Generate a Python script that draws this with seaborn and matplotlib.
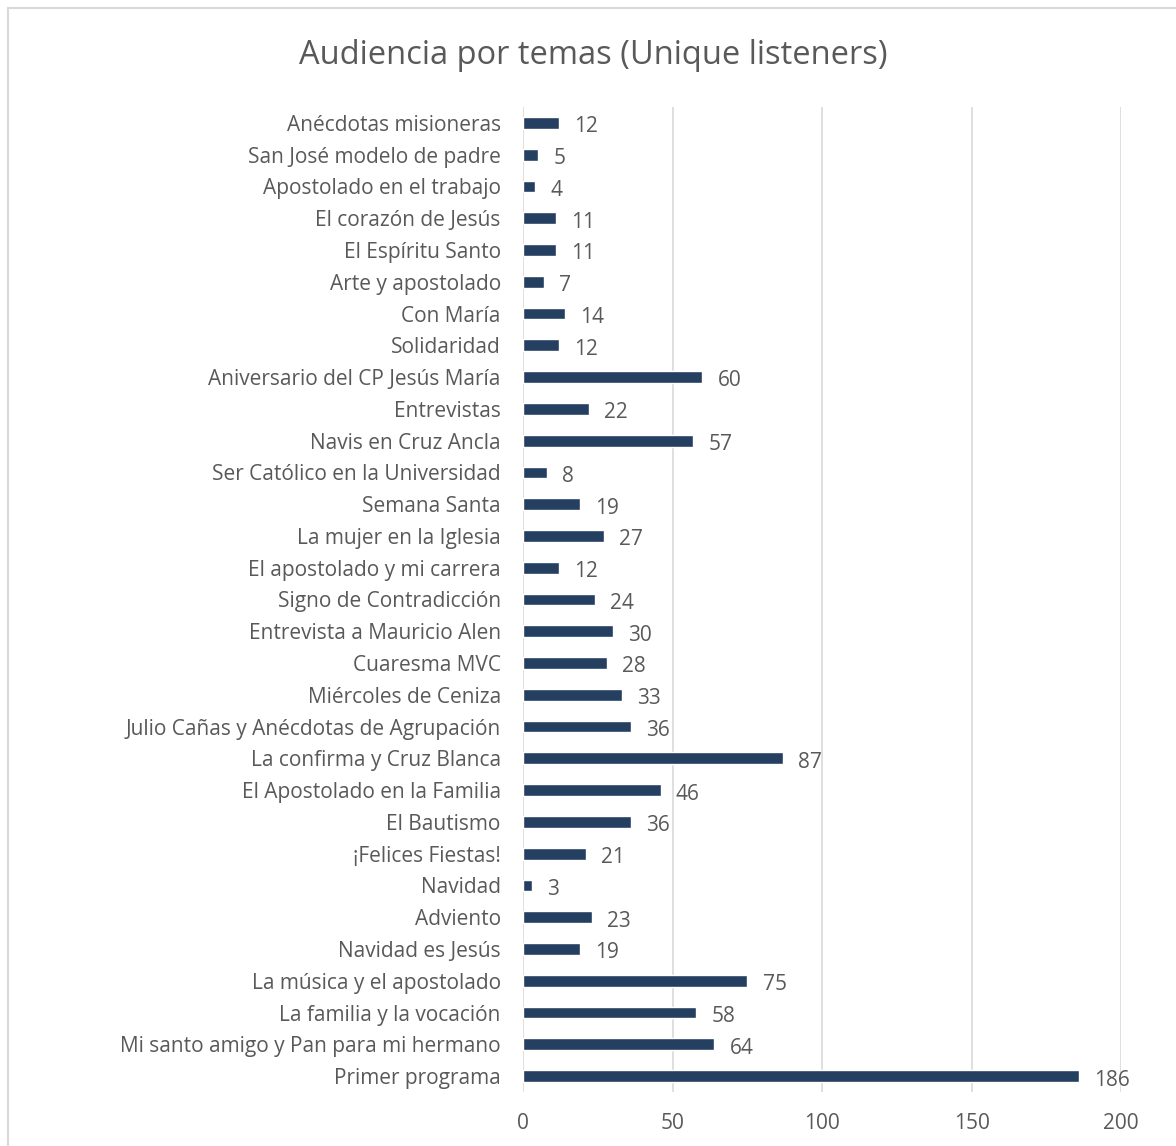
import pandas as pd
import matplotlib
matplotlib.use('Agg')
import matplotlib.pyplot as plt
import seaborn as sns

temas = ['Anécdotas misioneras', 'San José modelo de padre', 'Apostolado en el trabajo',
         'El corazón de Jesús', 'El Espíritu Santo', 'Arte y apostolado', 'Con María',
         'Solidaridad', 'Aniversario del CP Jesús María', 'Entrevistas', 'Navis en Cruz Ancla',
         'Ser Católico en la Universidad', 'Semana Santa', 'La mujer en la Iglesia',
         'El apostolado y mi carrera', 'Signo de Contradicción', 'Entrevista a Mauricio Alen',
         'Cuaresma MVC', 'Miércoles de Ceniza', 'Julio Cañas y Anécdotas de Agrupación',
         'La confirma y Cruz Blanca', 'El Apostolado en la Familia', 'El Bautismo',
         '¡Felices Fiestas!', 'Navidad', 'Adviento', 'Navidad es Jesús',
         'La música y el apostolado', 'La familia y la vocación',
         'Mi santo amigo y Pan para mi hermano', 'Primer programa']
oyentes = [12, 5, 4, 11, 11, 7, 14, 12, 60, 22, 57, 8, 19, 27, 12, 24, 30, 28, 33, 36,
           87, 46, 36, 21, 3, 23, 19, 75, 58, 64, 186]
xticks = [0, 50, 100, 150, 200]

df = pd.DataFrame({'tema': temas, 'oyentes': oyentes})

sns.set_theme(style='white')
plt.rcParams['font.family'] = ['Open Sans', 'DejaVu Sans']
gris = '#595959'
azul = '#243F60'

fig = plt.figure(figsize=(11.76, 11.46), dpi=100)
ax = fig.add_axes([523 / 1176, 1 - 1092 / 1146, 598 / 1176, 985 / 1146])

sns.barplot(data=df, x='oyentes', y='tema', color=azul, width=0.37,
            saturation=1, ax=ax, zorder=3)

for i, v in enumerate(oyentes):
    ax.annotate(str(v), (v, i), xytext=(11, -1), textcoords='offset points',
                va='center_baseline', ha='left', fontsize=15, color=gris)

ax.set_xlim(0, 200)
ax.set_ylim(len(temas) - 0.5, -0.5)
ax.set_xticks(xticks)
ax.xaxis.grid(True, color='#D9D9D9', linewidth=1.2, zorder=0)
ax.set_xlabel('')
ax.set_ylabel('')
for s in ax.spines.values():
    s.set_visible(False)
ax.tick_params(axis='x', length=0, pad=15, labelsize=15, labelcolor=gris)
ax.tick_params(axis='y', length=0, pad=16, labelsize=15, labelcolor=gris)

fig.text(593 / 1176, 1 - 56 / 1146, 'Audiencia por temas (Unique listeners)',
         ha='center', va='center', fontsize=23.5, color=gris)

# borde del gráfico estilo Excel
fig.patches.append(plt.Rectangle((8 / 1176, -0.05), 1.1, 1 - 8 / 1146 + 0.05,
                                 transform=fig.transFigure, fill=False,
                                 edgecolor='#D9D9D9', linewidth=1.5))

fig.savefig('out.png', dpi=100, facecolor='white')
